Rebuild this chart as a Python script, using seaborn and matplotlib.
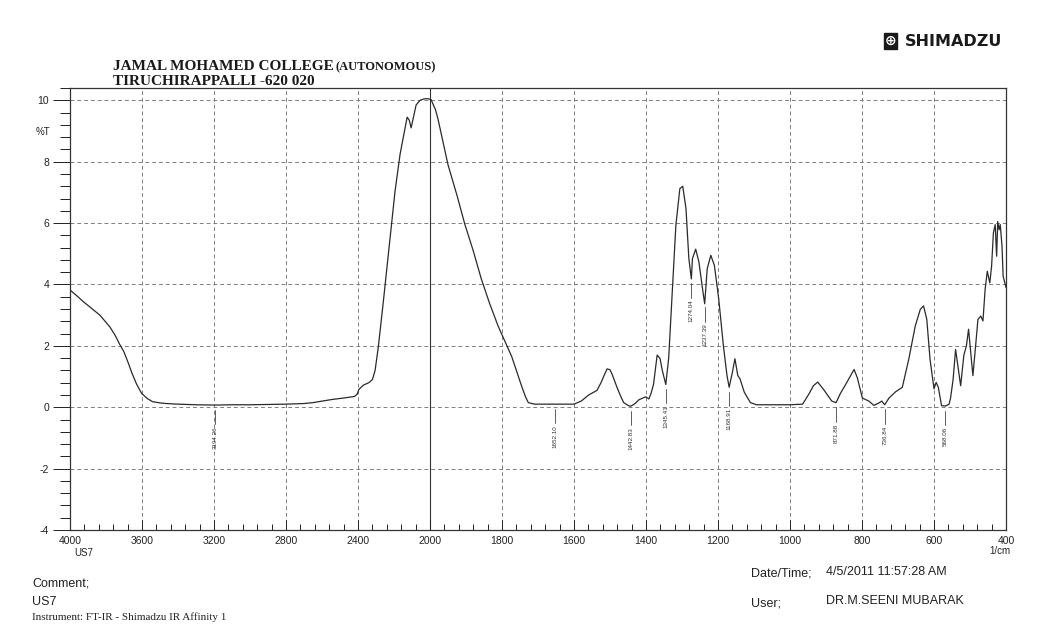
import numpy as np
import pandas as pd
import matplotlib
matplotlib.use("Agg")
import matplotlib.pyplot as plt
import seaborn as sns
from matplotlib.ticker import FixedLocator, NullFormatter

# ---------------- data ----------------
wavenumber = [4000, 3960, 3928, 3880, 3834, 3779, 3750, 3724, 3700, 3680, 3655, 3630, 3602,
              3570, 3541, 3500, 3464, 3400, 3300, 3194, 3100, 3000, 2900, 2800, 2700, 2650,
              2600, 2547, 2480, 2420, 2405, 2395, 2370, 2340, 2320, 2305, 2287, 2260, 2221,
              2194, 2166, 2138, 2127, 2115, 2105, 2090, 2077, 2055, 2030, 2011, 1997, 1985,
              1978, 1965, 1950, 1925, 1903, 1880, 1858, 1835, 1811, 1790, 1773, 1760, 1745,
              1735, 1727, 1710, 1652, 1600, 1580, 1559, 1536, 1525, 1517, 1508, 1500, 1494,
              1480, 1470, 1462, 1450, 1443, 1430, 1420, 1401, 1392, 1386, 1379, 1369, 1361,
              1355, 1345, 1337, 1327, 1317, 1306, 1298, 1289, 1281, 1274, 1271, 1262, 1253,
              1243, 1237, 1230, 1220, 1210, 1198, 1185, 1175, 1169, 1160, 1153, 1145, 1139,
              1127, 1110, 1093, 1000, 965, 947, 935, 923, 905, 884, 872, 860, 845, 822, 813,
              799, 781, 767, 753, 745, 737, 725, 707, 688, 670, 652, 638, 629, 620, 611, 600,
              594, 588, 579, 568, 558, 554, 547, 540, 532, 526, 517, 510, 504, 498, 492, 484,
              478, 470, 464, 458, 452, 445, 440, 435, 430, 426, 423, 419, 416, 411, 408, 400]
transmittance = [3.82, 3.62, 3.45, 3.22, 3.0, 2.62, 2.35, 2.05, 1.8, 1.5, 1.1, 0.75, 0.45,
                 0.28, 0.18, 0.14, 0.12, 0.1, 0.08, 0.07, 0.08, 0.08, 0.09, 0.1, 0.12, 0.15,
                 0.2, 0.25, 0.3, 0.35, 0.42, 0.58, 0.72, 0.8, 0.9, 1.2, 1.97, 3.4, 5.55,
                 7.05, 8.25, 9.1, 9.45, 9.35, 9.1, 9.5, 9.85, 10.0, 10.05, 10.05, 10.02, 9.7,
                 9.4, 8.7, 7.9, 6.9, 5.95, 5.1, 4.2, 3.4, 2.65, 2.1, 1.65, 1.2, 0.67,
                 0.35, 0.15, 0.1, 0.1, 0.1, 0.2, 0.4, 0.55, 0.8, 1.02, 1.25, 1.22, 1.07,
                 0.63, 0.35, 0.15, 0.06, 0.03, 0.12, 0.24, 0.34, 0.27, 0.45, 0.75, 1.7, 1.59,
                 1.21, 0.74, 1.6, 3.75, 5.93, 7.12, 7.2, 6.48, 4.85, 4.18, 4.84, 5.15, 4.73,
                 3.86, 3.37, 4.51, 4.95, 4.62, 3.53, 2.0, 1.03, 0.65, 1.14, 1.58, 1.03, 0.93,
                 0.49, 0.15, 0.08, 0.08, 0.1, 0.44, 0.7, 0.82, 0.55, 0.2, 0.15, 0.45, 0.75, 1.23, 0.96,
                 0.3, 0.2, 0.06, 0.14, 0.2, 0.08, 0.3, 0.5, 0.65, 1.57, 2.65, 3.19, 3.3, 2.86, 1.56, 0.6,
                 0.81, 0.65, 0.05, 0.04, 0.1, 0.3, 0.9, 1.88, 1.2, 0.7, 1.7, 2.0, 2.54, 1.8, 1.03, 2.05,
                 2.86, 2.97, 2.81, 3.84, 4.43, 4.05, 4.6, 5.68, 5.95, 4.92, 6.05, 5.78, 5.95, 5.24, 4.27, 3.9]

peak_labels = ["3194.26", "1652.10", "1442.83", "1345.41", "1274.04", "1237.39",
               "1168.91", "871.88", "736.84", "568.06"]

x_major = [4000, 3600, 3200, 2800, 2400, 2000, 1800, 1600, 1400, 1200, 1000, 800, 600, 400]
y_major = [-4, -2, 0, 2, 4, 6, 8, 10]

df = pd.DataFrame({"wavenumber": wavenumber, "T": transmittance})

# ---------------- style ----------------
sns.set_style("ticks")
plt.rcParams["font.family"] = ["Liberation Sans", "DejaVu Sans"]
plt.rcParams["axes.unicode_minus"] = False

fig = plt.figure(figsize=(10.46, 6.40), dpi=100)
W, H = 1046, 640
ax = fig.add_axes([70 / W, 110 / H, 936 / W, 442 / H])


def fwd(w):
    w = np.asarray(w, dtype=float)
    return np.where(w >= 2000, 2000 + (w - 2000) / 2.0, w)


def inv(u):
    u = np.asarray(u, dtype=float)
    return np.where(u >= 2000, 2000 + (u - 2000) * 2.0, u)


ax.set_xscale("function", functions=(fwd, inv))

sns.lineplot(data=df, x="wavenumber", y="T", sort=False, ax=ax,
             color="#2a2a2a", linewidth=0.9, estimator=None)

ax.set_xlim(4000, 400)
ax.set_ylim(-4, 10.4)

# grid
grid_kw = dict(color="#808080", linewidth=0.7, linestyle=(0, (4, 3)), zorder=0)
for yv in y_major[1:]:
    ax.axhline(yv, **grid_kw)
for xv in x_major[1:-1]:
    if xv == 2000:
        ax.axvline(xv, color="#333333", linewidth=0.8, zorder=0)
    else:
        ax.axvline(xv, **grid_kw)

# ticks
ax.xaxis.set_major_locator(FixedLocator(x_major))
ax.set_xticklabels([str(v) for v in x_major])
minor_x = [v for v in range(4000, 2000, -80) if v not in x_major] + \
          [v for v in range(2000, 400, -40) if v not in x_major]
ax.xaxis.set_minor_locator(FixedLocator(minor_x))
ax.yaxis.set_major_locator(FixedLocator(y_major))
minor_y = [round(-4 + 0.4 * i, 2) for i in range(37)]
minor_y = [v for v in minor_y if v not in y_major and v <= 10.4]
ax.yaxis.set_minor_locator(FixedLocator(minor_y))
ax.xaxis.set_minor_formatter(NullFormatter())
ax.yaxis.set_minor_formatter(NullFormatter())

ax.tick_params(axis="x", which="major", direction="in", length=7, width=0.7,
               labelsize=7.5, pad=4, colors="#222222")
ax.tick_params(axis="x", which="minor", direction="in", length=4, width=0.7, colors="#222222")
ax.tick_params(axis="y", which="major", direction="out", length=12, width=0.7,
               labelsize=7.5, pad=3, colors="#222222")
ax.tick_params(axis="y", which="minor", direction="out", length=7, width=0.7, colors="#222222")

for s in ax.spines.values():
    s.set_visible(True)
    s.set_linewidth(0.9)
    s.set_color("#333333")

ax.set_xlabel("")
ax.set_ylabel("")

# peak labels
ws = np.array(wavenumber[::-1], dtype=float)
ts = np.array(transmittance[::-1], dtype=float)
for lab in peak_labels:
    w = float(lab)
    yv = np.interp(w, ws, ts)
    ax.plot([w, w], [yv - 0.15, yv - 0.62], color="#444444", linewidth=0.6)
    ax.text(w, yv - 0.68, lab, rotation=90, ha="center", va="top",
            fontsize=4.5, color="#333333")

# texts
serif = ["Liberation Serif", "DejaVu Serif"]
fig.text(113 / W, 1 - 70 / H, "JAMAL MOHAMED COLLEGE", family=serif,
         fontweight="bold", fontsize=11, va="baseline", color="#1a1a1a")
fig.text(336 / W, 1 - 70 / H, "(AUTONOMOUS)", family=serif,
         fontweight="bold", fontsize=9, va="baseline", color="#1a1a1a")
fig.text(113 / W, 1 - 85 / H, "TIRUCHIRAPPALLI -620 020", family=serif,
         fontweight="bold", fontsize=11, va="baseline", color="#1a1a1a")

fig.text(885 / W, 1 - 41 / H, "\u2295", fontsize=10, fontweight="bold", color="white",
         va="center", ha="left", family=["DejaVu Sans"],
         bbox=dict(boxstyle="square,pad=0.05", fc="#1a1a1a", ec="#1a1a1a"))
fig.text(905 / W, 1 - 41 / H, "SHIMADZU", fontsize=11.5, fontweight="bold",
         color="#1a1a1a", va="center", ha="left", family=["DejaVu Sans"])

fig.text(36 / W, 1 - 132 / H, "%T", fontsize=7, color="#222222", va="center")
fig.text(74 / W, 1 - 553 / H, "US7", fontsize=7, color="#222222", va="center")
fig.text(989 / W, 1 - 551 / H, "1/cm", fontsize=7, color="#222222", va="center")

fig.text(32 / W, 1 - 583 / H, "Comment;", fontsize=9, color="#222222", va="center")
fig.text(32 / W, 1 - 602 / H, "US7", fontsize=9, color="#222222", va="center")
fig.text(32 / W, 1 - 617 / H, "Instrument: FT-IR - Shimadzu IR Affinity 1", family=serif,
         fontsize=8, color="#222222", va="center")

fig.text(751 / W, 1 - 573 / H, "Date/Time;", fontsize=9, color="#222222", va="center")
fig.text(826 / W, 1 - 572 / H, "4/5/2011 11:57:28 AM", fontsize=9, color="#222222", va="center")
fig.text(751 / W, 1 - 603 / H, "User;", fontsize=9, color="#222222", va="center")
fig.text(826 / W, 1 - 601 / H, "DR.M.SEENI MUBARAK", fontsize=9, color="#222222", va="center")

fig.savefig("out.png", dpi=100, facecolor="white")
